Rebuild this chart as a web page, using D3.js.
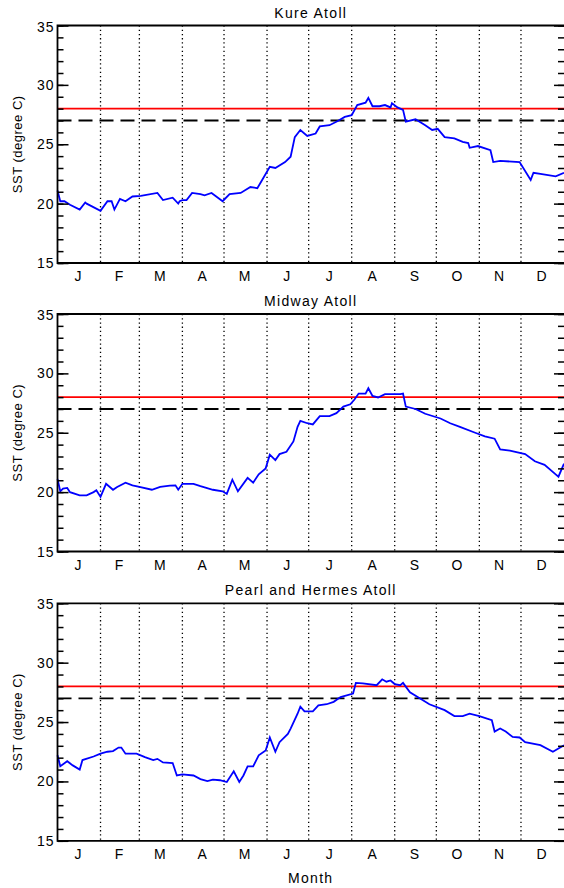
<!DOCTYPE html>
<html>
<head>
<meta charset="utf-8">
<script src="https://cdn.jsdelivr.net/npm/d3@7"></script>
<style>
  body { margin: 0; background: #fff; }
  text { font-family: "Liberation Sans", Arial, sans-serif; fill: #000; }
</style>
</head>
<body>
<script>
/* VARIABLES */
var w       = 564,
    h       = 888,
    left    = 57.5,
    right   = 564,
    plotH   = 237.5,
    tops    = [25.5, 314, 603.3];

/* DATA */
var sites       = ['Kure Atoll', 'Midway Atoll', 'Pearl and Hermes Atoll'];
var months      = ['J', 'F', 'M', 'A', 'M', 'J', 'J', 'A', 'S', 'O', 'N', 'D'];
var monthStarts = [0, 31, 59, 90, 120, 151, 181, 212, 243, 273, 304, 334, 365];
var yTicks      = [15, 20, 25, 30, 35];
var bleachLevel = 28;   // red line
var meanMax     = 27;   // dashed line

var kureDay = [0, 2, 5, 9, 16, 20, 21, 31, 36, 39, 41, 45, 49, 54, 60, 72, 76, 83, 87, 88, 90, 93, 97, 103, 106, 111, 119, 124, 132, 139, 144, 148, 153, 157, 164, 168, 171, 175, 180, 186, 189, 196, 202, 207, 212, 216, 222, 224, 227, 232, 236, 240, 241, 245, 249, 251, 258, 265, 270, 274, 279, 286, 292, 296, 297, 303, 312, 314, 319, 333, 341, 343, 348, 359, 365];
var kureSST = [21.1, 20.2, 20.2, 19.9, 19.5, 20.1, 20.0, 19.4, 20.2, 20.2, 19.5, 20.4, 20.2, 20.6, 20.65, 20.9, 20.3, 20.5, 20.0, 20.2, 20.3, 20.3, 20.9, 20.8, 20.7, 20.9, 20.2, 20.8, 20.9, 21.4, 21.3, 22.1, 23.1, 23.0, 23.5, 23.95, 25.6, 26.2, 25.7, 25.9, 26.5, 26.6, 26.96, 27.3, 27.45, 28.3, 28.5, 28.9, 28.2, 28.2, 28.3, 28.1, 28.45, 28.1, 27.9, 26.9, 27.1, 26.6, 26.2, 26.3, 25.6, 25.5, 25.2, 25.1, 24.7, 24.85, 24.5, 23.5, 23.6, 23.5, 22.0, 22.6, 22.5, 22.3, 22.6];

var midwayDay = [0, 2, 4, 7, 9, 16, 21, 26, 28, 31, 35, 40, 43, 49, 54, 59, 68, 74, 81, 85, 87, 90, 98, 103, 112, 119, 122, 126, 130, 137, 141, 145, 150, 153, 157, 160, 165, 170, 173, 175, 180, 184, 189, 196, 201, 206, 211, 214, 217, 222, 224, 227, 231, 236, 247, 249, 251, 258, 265, 276, 283, 290, 301, 308, 315, 319, 326, 337, 344, 351, 359, 361, 365];
var midwaySST = [21.1, 20.07, 20.3, 20.35, 20.0, 19.73, 19.73, 20.0, 20.15, 19.6, 20.7, 20.2, 20.44, 20.8, 20.57, 20.44, 20.2, 20.44, 20.55, 20.57, 20.2, 20.7, 20.7, 20.5, 20.2, 20.07, 19.85, 21.05, 20.07, 21.2, 20.8, 21.5, 22.0, 23.15, 22.7, 23.2, 23.4, 24.27, 25.5, 26.0, 25.8, 25.7, 26.4, 26.4, 26.65, 27.2, 27.4, 27.8, 28.3, 28.3, 28.75, 28.1, 27.97, 28.25, 28.25, 28.3, 27.2, 27.0, 26.6, 26.2, 25.8, 25.5, 25.0, 24.7, 24.5, 23.6, 23.5, 23.2, 22.6, 22.3, 21.5, 21.3, 22.4];

var pearlDay = [0, 2, 7, 11, 16, 18, 26, 31, 36, 40, 44, 46, 49, 57, 63, 69, 72, 76, 83, 86, 90, 98, 103, 108, 112, 117, 122, 127, 131, 134, 137, 141, 145, 150, 153, 157, 160, 166, 168, 173, 175, 178, 184, 188, 194, 199, 204, 213, 215, 220, 230, 234, 237, 240, 243, 247, 249, 254, 261, 268, 279, 286, 292, 297, 304, 313, 315, 319, 323, 328, 333, 337, 348, 357, 365];
var pearlSST = [22.2, 21.27, 21.7, 21.35, 21.0, 21.8, 22.1, 22.34, 22.5, 22.56, 22.85, 22.85, 22.34, 22.34, 22.05, 21.8, 21.9, 21.6, 21.55, 20.5, 20.6, 20.5, 20.2, 20.03, 20.15, 20.1, 19.95, 20.85, 19.95, 20.5, 21.27, 21.27, 22.2, 22.6, 23.7, 22.5, 23.3, 24.0, 24.45, 25.7, 26.3, 25.9, 25.9, 26.4, 26.5, 26.7, 27.1, 27.4, 28.3, 28.25, 28.1, 28.6, 28.4, 28.5, 28.2, 28.1, 28.3, 27.5, 27.0, 26.5, 26.0, 25.5, 25.5, 25.7, 25.5, 25.15, 24.2, 24.45, 24.2, 23.75, 23.7, 23.3, 23.05, 22.5, 23.05];

var series = [
  { days: kureDay,   sst: kureSST },
  { days: midwayDay, sst: midwaySST },
  { days: pearlDay,  sst: pearlSST },
];

/* MAKE SVG */
var svg = d3.select('body')
            .append('svg')
            .attr('width', w)
            .attr('height', h);

var x = d3.scaleLinear().domain([0, 365]).range([left, right]);

/* DRAW PANELS */
sites.forEach(function(site, i){
  var top = tops[i],
      bot = top + plotH;
  var y = d3.scaleLinear().domain([15, 35]).range([bot, top]);
  var g = svg.append('g');

  // month divider lines
  g.selectAll('line.month')
    .data(monthStarts.slice(1, 12))
    .enter()
      .append('line')
      .attr('x1', function(d){ return x(d); })
      .attr('x2', function(d){ return x(d); })
      .attr('y1', top)
      .attr('y2', bot)
      .attr('stroke', '#000')
      .attr('stroke-width', 1.3)
      .attr('stroke-dasharray', '1.3,2.9');

  // threshold lines
  g.append('line')
    .attr('x1', left).attr('x2', right)
    .attr('y1', y(meanMax)).attr('y2', y(meanMax))
    .attr('stroke', '#000')
    .attr('stroke-width', 1.8)
    .attr('stroke-dasharray', '14,7');

  g.append('line')
    .attr('x1', left).attr('x2', right)
    .attr('y1', y(bleachLevel)).attr('y2', y(bleachLevel))
    .attr('stroke', '#ff0000')
    .attr('stroke-width', 1.8);

  // sst curve
  var pts = d3.zip(series[i].days, series[i].sst);
  g.append('path')
    .datum(pts)
    .attr('fill', 'none')
    .attr('stroke', '#0000ff')
    .attr('stroke-width', 1.8)
    .attr('d', d3.line()
      .x(function(d){ return x(d[0]); })
      .y(function(d){ return y(d[1]); }));

  // left axis with inward ticks, minor every degree
  g.append('g')
    .attr('transform', 'translate(' + left + ',0)')
    .call(d3.axisRight(y).tickValues(d3.range(15, 36)).tickSize(6).tickFormat(''))
    .call(function(a){ a.select('.domain').remove(); });
  g.append('g')
    .attr('transform', 'translate(' + left + ',0)')
    .call(d3.axisRight(y).tickValues(yTicks).tickSize(11).tickFormat(''))
    .call(function(a){ a.select('.domain').remove(); });
  g.selectAll('text.ylab')
    .data(yTicks)
    .enter()
      .append('text')
      .attr('x', left - 3)
      .attr('y', function(d){ return y(d) + (d === 35 ? 6 : 5); })
      .attr('text-anchor', 'end')
      .attr('font-size', 14)
      .attr('letter-spacing', 1)
      .text(function(d){ return d; });

  // right axis ticks
  g.append('g')
    .attr('transform', 'translate(' + right + ',0)')
    .call(d3.axisLeft(y).tickValues(d3.range(15, 36)).tickSize(6).tickFormat(''))
    .call(function(a){ a.select('.domain').remove(); });
  g.append('g')
    .attr('transform', 'translate(' + right + ',0)')
    .call(d3.axisLeft(y).tickValues(yTicks).tickSize(10).tickFormat(''))
    .call(function(a){ a.select('.domain').remove(); });
  g.selectAll('.tick line').attr('stroke', '#000').attr('stroke-width', 1.5);

  // frame
  g.append('path')
    .attr('d', 'M' + right + ',' + top + 'H' + left + 'V' + bot + 'H' + right)
    .attr('fill', 'none')
    .attr('stroke', '#000')
    .attr('stroke-width', 1.8);

  // month labels
  g.selectAll('text.mon')
    .data(months)
    .enter()
      .append('text')
      .attr('x', function(d, k){ return x((monthStarts[k] + monthStarts[k + 1]) / 2) - 1; })
      .attr('y', bot + 18)
      .attr('text-anchor', 'middle')
      .attr('font-size', 14)
      .text(function(d){ return d; });

  // title and y label
  g.append('text')
    .attr('x', (left + right) / 2)
    .attr('y', top - 8)
    .attr('text-anchor', 'middle')
    .attr('font-size', 14)
    .attr('letter-spacing', 1.3)
    .text(site);

  g.append('text')
    .attr('transform', 'translate(22,' + (top + plotH / 2) + ') rotate(-90)')
    .attr('text-anchor', 'middle')
    .attr('font-size', 13)
    .attr('letter-spacing', 0.5)
    .text('SST (degree C)');
});

/* X TITLE */
svg.append('text')
  .attr('x', (left + right) / 2)
  .attr('y', 883)
  .attr('text-anchor', 'middle')
  .attr('font-size', 14)
  .attr('letter-spacing', 1.3)
  .text('Month');
</script>
</body>
</html>
